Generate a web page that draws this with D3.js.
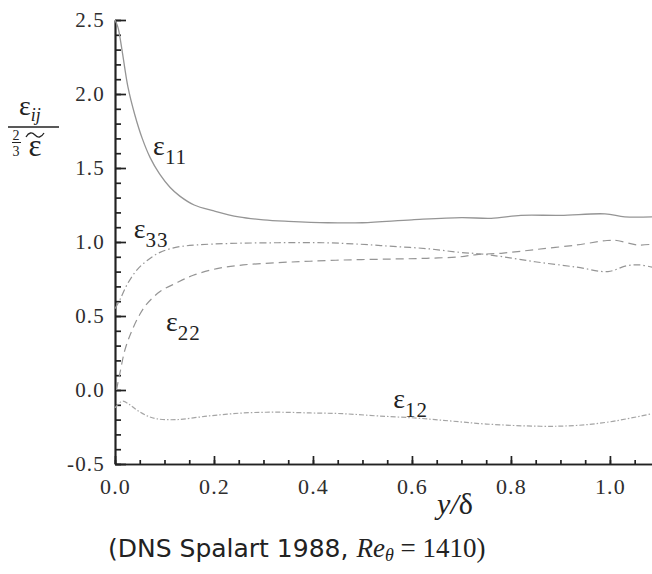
<!DOCTYPE html>
<html>
<head>
<meta charset="utf-8">
<script src="https://cdn.jsdelivr.net/npm/d3@7"></script>
<style>
  body { margin: 0; background: #fff; }
  .curve { fill: none; }
  .axis path, .axis line { stroke: #222; stroke-width: 1.7; }
  .axis text { fill: #2e2e2e; font-family: 'Liberation Serif', serif; letter-spacing: 1.2px; }
</style>
</head>
<body>
<script>
// y/delta positions and dissipation ratios
var x11 = [0, 0.006, 0.014, 0.026, 0.04, 0.055, 0.071, 0.09, 0.111, 0.131, 0.16, 0.2, 0.25, 0.3, 0.35, 0.43, 0.5, 0.6, 0.7, 0.76, 0.82, 0.9, 0.99, 1.03, 1.085];
var e11 = [2.5, 2.45, 2.3, 2.05, 1.86, 1.7, 1.57, 1.46, 1.37, 1.31, 1.25, 1.21, 1.17, 1.15, 1.14, 1.13, 1.13, 1.15, 1.165, 1.16, 1.18, 1.18, 1.19, 1.17, 1.17];

var x33 = [0, 0.01, 0.024, 0.044, 0.065, 0.091, 0.125, 0.165, 0.23, 0.33, 0.42, 0.495, 0.562, 0.63, 0.697, 0.737, 0.784, 0.852, 0.933, 0.996, 1.034, 1.06, 1.085];
var e33 = [0.55, 0.61, 0.71, 0.81, 0.875, 0.93, 0.965, 0.98, 0.99, 0.995, 0.995, 0.985, 0.97, 0.955, 0.93, 0.92, 0.9, 0.865, 0.83, 0.8, 0.84, 0.845, 0.83];

var x22 = [0.003, 0.01, 0.02, 0.034, 0.05, 0.064, 0.091, 0.125, 0.158, 0.206, 0.259, 0.327, 0.394, 0.48, 0.562, 0.63, 0.697, 0.731, 0.784, 0.852, 0.933, 0.994, 1.014, 1.055, 1.085];
var e22 = [0.0, 0.115, 0.27, 0.4, 0.51, 0.58, 0.665, 0.725, 0.775, 0.82, 0.845, 0.86, 0.87, 0.88, 0.885, 0.89, 0.9, 0.915, 0.925, 0.95, 0.98, 1.01, 1.01, 0.98, 0.985];

var x12 = [0, 0.008, 0.016, 0.03, 0.044, 0.065, 0.085, 0.125, 0.19, 0.26, 0.327, 0.394, 0.46, 0.53, 0.61, 0.68, 0.75, 0.86, 0.93, 1.0, 1.085];
var e12 = [-0.12, -0.09, -0.075, -0.1, -0.135, -0.175, -0.195, -0.2, -0.175, -0.155, -0.15, -0.155, -0.16, -0.175, -0.19, -0.21, -0.23, -0.245, -0.24, -0.215, -0.16];

var xTicks = [0, 0.2, 0.4, 0.6, 0.8, 1.0];
var yTicks = [-0.5, 0, 0.5, 1.0, 1.5, 2.0, 2.5];

// curve name labels: [main, subscript, x, y] in data units
var curveLabels = [
  ['ε', '11', 0.077, 1.59],
  ['ε', '33', 0.038, 1.03],
  ['ε', '22', 0.103, 0.40],
  ['ε', '12', 0.562, -0.12]
];

var W = 652, H = 574;
var serif = "'Liberation Serif', serif";

var svg = d3.select('body').append('svg')
  .attr('width', W)
  .attr('height', H);

svg.append('rect').attr('width', W).attr('height', H).attr('fill', '#fff');

var x = d3.scaleLinear().domain([0, 1.085]).range([115, 652]);
var y = d3.scaleLinear().domain([-0.5, 2.5]).range([464, 20]);

// minor ticks first
svg.append('g')
  .attr('class', 'axis')
  .attr('transform', 'translate(115,0)')
  .call(d3.axisLeft(y).tickValues(d3.range(-0.5, 2.51, 0.1)).tickSize(-6).tickSizeOuter(0).tickFormat(''));

svg.append('g')
  .attr('class', 'axis')
  .attr('transform', 'translate(0,464)')
  .call(d3.axisBottom(x).tickValues(d3.range(0, 1.06, 0.05)).tickSize(-4).tickSizeOuter(0).tickFormat(''));

// major ticks + labels
var yAxis = svg.append('g')
  .attr('class', 'axis')
  .attr('transform', 'translate(115,0)')
  .call(d3.axisLeft(y).tickValues(yTicks).tickSize(-11).tickPadding(10).tickSizeOuter(0).tickFormat(d3.format('.1f')));
yAxis.selectAll('text').style('font-size', '21px');
yAxis.selectAll('text').filter(d => d < 0).text(d => '-' + Math.abs(d).toFixed(1));

var xAxis = svg.append('g')
  .attr('class', 'axis')
  .attr('transform', 'translate(0,464)')
  .call(d3.axisBottom(x).tickValues(xTicks).tickSize(-8).tickPadding(14).tickSizeOuter(0).tickFormat(d3.format('.1f')));
xAxis.selectAll('text').style('font-size', '22px');

// curves
var series = [
  {xs: x11, ys: e11, dash: null, color: '#959595', w: 1.3},
  {xs: x33, ys: e33, dash: '7,3,1.5,3', color: '#959595', w: 1.2},
  {xs: x22, ys: e22, dash: '8,5', color: '#959595', w: 1.2},
  {xs: x12, ys: e12, dash: '5,2,1.5,2', color: '#a5a5a5', w: 1.2}
];

var line = d3.line()
  .x(d => x(d[0]))
  .y(d => y(d[1]))
  .curve(d3.curveCatmullRom.alpha(0.5));

series.forEach(function(s) {
  svg.append('path')
    .datum(d3.zip(s.xs, s.ys))
    .attr('class', 'curve')
    .attr('stroke', s.color)
    .attr('stroke-width', s.w)
    .attr('stroke-dasharray', s.dash)
    .attr('d', line);
});

// curve labels
curveLabels.forEach(function(l) {
  var t = svg.append('text')
    .attr('x', x(l[2]))
    .attr('y', y(l[3]))
    .attr('fill', '#222')
    .style('font-family', serif);
  t.append('tspan')
    .style('font-size', '28px')
    .text(l[0]);
  t.append('tspan')
    .attr('dy', 9)
    .style('font-size', '21px')
    .style('letter-spacing', '1px')
    .text(l[1]);
});

// y axis title: eps_ij / (2/3 eps~)
var yt = svg.append('g').attr('fill', '#222').style('font-family', serif);
var num = yt.append('text').attr('x', 19).attr('y', 115);
num.append('tspan').style('font-size', '28px').text('ε');
num.append('tspan').attr('dy', 6).style('font-style', 'italic').style('font-size', '18px').text('ij');
yt.append('line').attr('x1', 8).attr('x2', 59).attr('y1', 127).attr('y2', 127).attr('stroke', '#222').attr('stroke-width', 1.5);
yt.append('text').attr('x', 16).attr('y', 140).attr('text-anchor', 'middle').style('font-size', '14px').text('2');
yt.append('line').attr('x1', 12).attr('x2', 21).attr('y1', 142.5).attr('y2', 142.5).attr('stroke', '#222').attr('stroke-width', 1);
yt.append('text').attr('x', 16).attr('y', 156).attr('text-anchor', 'middle').style('font-size', '14px').text('3');
yt.append('text').attr('x', 35).attr('y', 156).attr('text-anchor', 'middle').style('font-size', '31px').text('ε');
yt.append('path')
  .attr('d', 'M26,137 C29,132 32,132 35,135 C38,138 41,138 44,133')
  .attr('fill', 'none').attr('stroke', '#222').attr('stroke-width', 1.3);

// x axis title
var xt = svg.append('text').attr('x', 455).attr('y', 514).attr('text-anchor', 'middle').attr('fill', '#222')
  .style('font-family', serif).style('font-size', '30px');
xt.append('tspan').style('font-style', 'italic').text('y/');
xt.append('tspan').text('δ');

// caption
var cap = svg.append('text').attr('x', 108).attr('y', 557).attr('fill', '#222').style('font-size', '25px');
cap.append('tspan').style('font-family', "'DejaVu Sans', sans-serif").text('(DNS Spalart 1988, ');
cap.append('tspan').style('font-family', serif).style('font-style', 'italic').style('font-size', '27px').text('Re');
cap.append('tspan').attr('dy', 4).style('font-family', serif).style('font-style', 'italic').style('font-size', '18px').text('θ');
cap.append('tspan').attr('dy', -4).style('font-family', serif).style('font-size', '27px').text(' = 1410)');
</script>
</body>
</html>
